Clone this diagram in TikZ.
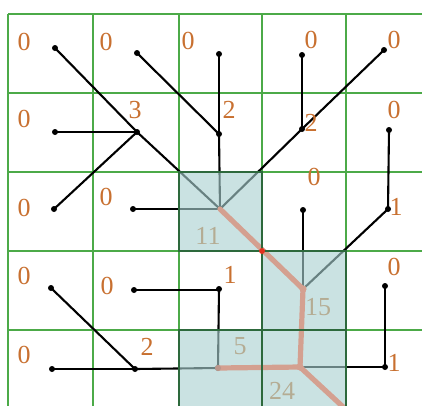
\documentclass[tikz,border=0pt]{standalone}
\usepackage{fontspec}
\setmainfont{Liberation Serif}
\begin{document}
\begin{tikzpicture}[x=1pt,y=-1pt,
  flow/.style={line width=2.1pt,black},
  main/.style={line width=5.2pt,color=salmonc,line cap=round},
  gridl/.style={line width=2.8pt,color=gridg},
  darkb/.style={line width=2.8pt,color=darkg},
  num/.style={text=numc,font=\fontsize{26}{26}\selectfont,inner sep=0pt},
  dot/.style={circle,fill=black,inner sep=0pt,minimum size=6pt}]
\definecolor{gridg}{RGB}{76,170,72}
\definecolor{darkg}{RGB}{45,105,60}
\definecolor{numc}{RGB}{200,112,48}
\definecolor{shadec}{RGB}{169,209,209}
\definecolor{salmonc}{RGB}{212,160,144}
\definecolor{redc}{RGB}{225,50,30}
\useasboundingbox (0,0) rectangle (422,405);
\clip (0,0) rectangle (422,405);
% points
\coordinate (p11) at (55,48);  \coordinate (p21) at (137,53); \coordinate (p31) at (219,54); \coordinate (p41) at (302,55); \coordinate (p51) at (384,50);
\coordinate (p12) at (55,132); \coordinate (p22) at (137,132); \coordinate (p32) at (219,134); \coordinate (p42) at (302,129); \coordinate (p52) at (389,130);
\coordinate (p13) at (54,209); \coordinate (p23) at (133,209); \coordinate (p33) at (220,209); \coordinate (p43) at (303,210); \coordinate (p53) at (388,209);
\coordinate (p14) at (51,288); \coordinate (p24) at (134,290); \coordinate (p34) at (219,289); \coordinate (p44) at (303,289); \coordinate (p54) at (385,286);
\coordinate (p15) at (52,369); \coordinate (p25) at (135,369); \coordinate (p35) at (218,368); \coordinate (p45) at (300,367); \coordinate (p55) at (385,367);
\coordinate (pout) at (354,417);
% grid
\foreach \x in {8,93,179,262,346} \draw[gridl] (\x,14) -- (\x,410);
\foreach \y in {14,93,172,251,330} \draw[gridl] (8,\y) -- (430,\y);
% flow lines
\draw[flow] (p11) -- (p22);
\draw[flow] (p22) -- (p33);
\draw[flow] (p21) -- (p32);
\draw[flow] (p31) -- (p32);
\draw[flow] (p32) -- (p33);
\draw[flow] (p41) -- (p42);
\draw[flow] (p51) -- (p42);
\draw[flow] (p42) -- (p33);
\draw[flow] (p12) -- (p22);
\draw[flow] (p13) -- (p22);
\draw[flow] (p23) -- (p33);
\draw[flow] (p52) -- (p53);
\draw[flow] (p43) -- (p44);
\draw[flow] (p53) -- (p44);
\draw[flow] (p14) -- (p25);
\draw[flow] (p24) -| (p34);
\draw[flow] (p34) -- (p35);
\draw[flow] (p54) |- (p55);
\draw[flow] (p55) -- (p45);
\draw[flow] (p15) -- (p25);
\draw[flow] (p25) -- (p35);
% dots
\foreach \p in {p11,p21,p31,p41,p51,p12,p22,p32,p42,p52,p13,p23,p43,p53,p14,p24,p34,p54,p15,p25,p35,p55}
  \node[dot] (d\p) at (\p) {};
% numbers
\node[num] (n11) at (24,42) {0};  \node[num] (n21) at (106,42) {0}; \node[num] (n31) at (188,41) {0}; \node[num] (n41) at (311,40) {0}; \node[num] (n51) at (394,40) {0};
\node[num] (n12) at (24,119) {0}; \node[num] (n22) at (135,110) {3}; \node[num] (n32) at (229,110) {2}; \node[num] (n42) at (311,123) {2}; \node[num] (n52) at (394,110) {0};
\node[num] (n13) at (24,208) {0}; \node[num] (n23) at (106,197) {0}; \node[num] (n33) at (208,236) {11}; \node[num] (n43) at (314,177) {0}; \node[num] (n53) at (396,207) {1};
\node[num] (n14) at (24,276) {0}; \node[num] (n24) at (107,286) {0}; \node[num] (n34) at (230,275) {1}; \node[num] (n44) at (318,307) {15}; \node[num] (n54) at (394,267) {0};
\node[num] (n15) at (24,355) {0}; \node[num] (n25) at (147,347) {2}; \node[num] (n35) at (240,346) {5}; \node[num] (n45) at (282,391) {24}; \node[num] (n55) at (394,363) {1};
% shading overlay
\fill[shadec,fill opacity=0.62] (179,172) rectangle (262,251);
\fill[shadec,fill opacity=0.62] (262,251) rectangle (346,330);
\fill[shadec,fill opacity=0.62] (179,330) rectangle (346,412);
% main channel
\draw[main] (p33) -- (p44);
\draw[main] (p44) -- (p45);
\draw[main] (p35) -- (p45);
\draw[main] (p45) -- (pout);
% dark borders
\draw[darkb] (179,172) rectangle (262,251);
\draw[darkb] (262,251) rectangle (346,330);
\draw[darkb] (179,330) rectangle (262,412);
\draw[darkb] (262,330) rectangle (346,412);
\fill[salmonc] (p44) circle (3.6pt);
\fill[salmonc] (p45) circle (3.6pt);
\fill[salmonc!70!gray] (p35) circle (3pt);
\fill[redc] (262,251) circle (3pt);
\end{tikzpicture}
\end{document}
